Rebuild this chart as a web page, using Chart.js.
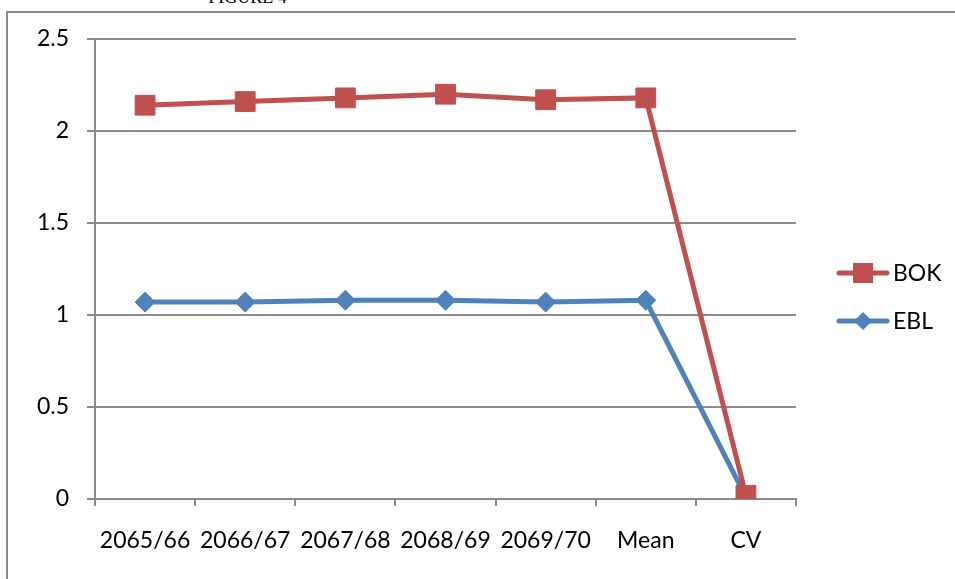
<!DOCTYPE html>
<html>
<head>
<meta charset="utf-8">
<script src="https://cdn.jsdelivr.net/npm/chart.js@4.4.1/dist/chart.umd.min.js"></script>
<style>
  html, body { margin: 0; padding: 0; background: #fff; overflow: hidden; }
  #wrap { position: relative; width: 955px; height: 579px; }
  #frame { position: absolute; left: 6px; top: 11px; width: 1000px; height: 700px; border: 2px solid #8a8a8a; }
  #title { position: absolute; left: 0; width: 495px; top: -13px; text-align: center;
           font-family: "Liberation Serif", "Times New Roman", serif; font-size: 18px; color: #000; }
  canvas { position: absolute; left: 0; top: 0; }
</style>
</head>
<body>
<div id="wrap">
  <div id="frame"></div>
  <div id="title">FIGURE 4</div>
  <canvas id="line-chart" width="955" height="579"></canvas>
</div>
<script>
    var categories = ['2065/66', '2066/67', '2067/68', '2068/69', '2069/70', 'Mean', 'CV'];
    var bokValues = [2.14, 2.16, 2.18, 2.20, 2.17, 2.18, 0.02];
    var eblValues = [1.07, 1.07, 1.08, 1.08, 1.07, 1.08, 0.01];
    var yTicks = [0, 0.5, 1, 1.5, 2, 2.5];

    var red = '#C0504D',
        blue = '#4F81BD',
        gridColor = '#8c8c8c',
        fontFamily = 'Lato, "Open Sans", sans-serif';

    // legend drawn by hand so each entry shows the line with its marker
    var sideLegend = {
        id: 'sideLegend',
        afterDraw: function (chart) {
            var ctx = chart.ctx;
            var rows = [{ ds: 0, y: 273 }, { ds: 1, y: 321 }];
            rows.forEach(function (row) {
                var ds = chart.data.datasets[row.ds];
                ctx.save();
                ctx.strokeStyle = ds.borderColor;
                ctx.lineWidth = 5;
                ctx.lineCap = 'round';
                ctx.beginPath();
                ctx.moveTo(839, row.y);
                ctx.lineTo(887, row.y);
                ctx.stroke();
                ctx.fillStyle = ds.pointBackgroundColor;
                ctx.beginPath();
                if (ds.pointStyle === 'rect') {
                    ctx.rect(853, row.y - 10, 20, 20);
                } else {
                    ctx.moveTo(863, row.y - 9);
                    ctx.lineTo(872, row.y);
                    ctx.lineTo(863, row.y + 9);
                    ctx.lineTo(854, row.y);
                    ctx.closePath();
                }
                ctx.fill();
                ctx.fillStyle = '#000';
                ctx.font = '23px ' + fontFamily;
                ctx.textBaseline = 'middle';
                ctx.fillText(ds.label, 893, row.y + 1);
                ctx.restore();
            });
        }
    };

    var ctx = document.getElementById('line-chart').getContext('2d');

    new Chart(ctx, {
        type: 'line',
        data: {
            labels: categories,
            datasets: [
                {
                    label: 'BOK',
                    data: bokValues,
                    borderColor: red,
                    backgroundColor: red,
                    borderWidth: 5,
                    tension: 0,
                    pointStyle: 'rect',
                    pointRadius: 14,
                    pointHoverRadius: 14,
                    pointBackgroundColor: red,
                    pointBorderColor: red,
                    pointBorderWidth: 1
                },
                {
                    label: 'EBL',
                    data: eblValues,
                    borderColor: blue,
                    backgroundColor: blue,
                    borderWidth: 5,
                    tension: 0,
                    pointStyle: 'rectRot',
                    pointRadius: 10,
                    pointHoverRadius: 10,
                    pointBackgroundColor: blue,
                    pointBorderColor: blue,
                    pointBorderWidth: 1
                }
            ]
        },
        options: {
            responsive: false,
            animation: false,
            layout: { padding: { left: 0, top: 39, right: 159, bottom: 0 } },
            plugins: {
                legend: { display: false },
                tooltip: { enabled: false }
            },
            scales: {
                x: {
                    offset: true,
                    grid: {
                        display: true,
                        offset: true,
                        drawOnChartArea: false,
                        drawTicks: true,
                        tickLength: 7,
                        color: gridColor,
                        lineWidth: 2
                    },
                    border: { display: true, color: gridColor, width: 2 },
                    ticks: {
                        color: '#000',
                        padding: 21,
                        maxRotation: 0,
                        autoSkip: false,
                        font: { family: fontFamily, size: 23 }
                    },
                    afterFit: function (scale) { scale.height = 80; }
                },
                y: {
                    min: 0,
                    max: 2.5,
                    afterBuildTicks: function (scale) {
                        scale.ticks = yTicks.map(function (v) { return { value: v }; });
                    },
                    grid: {
                        color: gridColor,
                        lineWidth: 2,
                        tickLength: 8
                    },
                    border: { display: true, color: gridColor, width: 2 },
                    ticks: {
                        color: '#000',
                        padding: 18,
                        font: { family: fontFamily, size: 23 },
                        callback: function (v) { return String(v); }
                    },
                    afterFit: function (scale) { scale.width = 95; }
                }
            }
        },
        plugins: [sideLegend]
    });
</script>
</body>
</html>
